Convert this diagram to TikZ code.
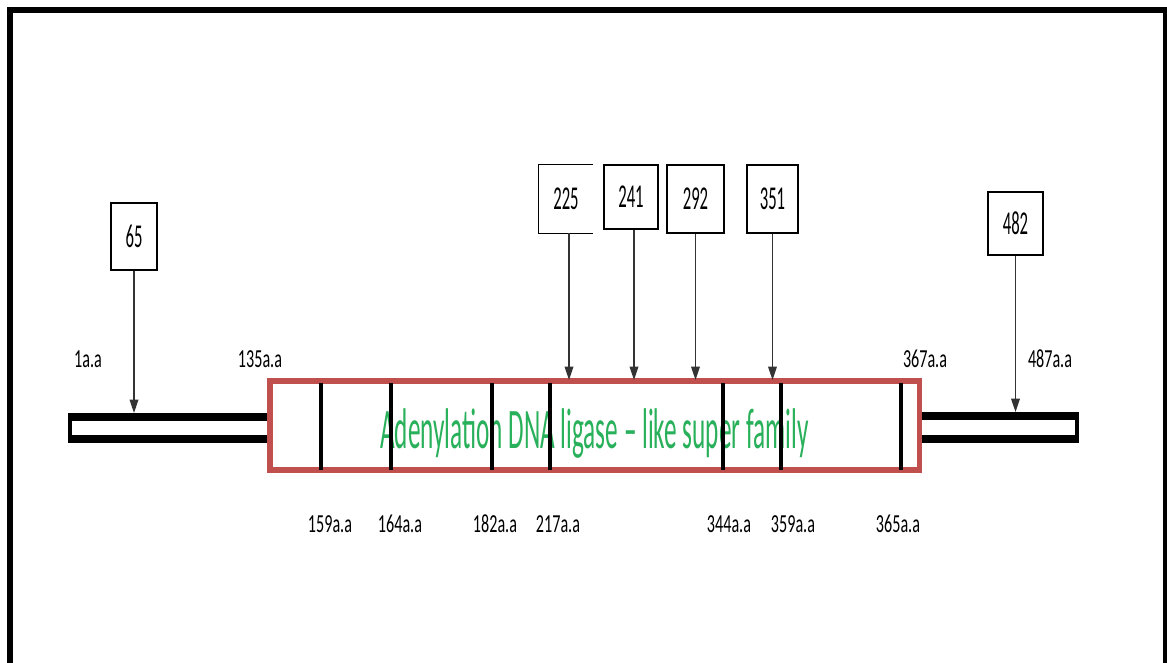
\documentclass[tikz,border=0pt]{standalone}
\usepackage{fontspec}
\usetikzlibrary{arrows.meta}
\newfontfamily\labfont[FakeStretch=0.62]{Carlito}
\newfontfamily\numfont[FakeStretch=0.5]{Carlito}
\newfontfamily\grnfont[FakeStretch=0.44]{Carlito}
\definecolor{domred}{RGB}{192,80,77}
\definecolor{domgreen}{RGB}{40,176,90}
\begin{document}
\begin{tikzpicture}[x=0.75pt,y=-0.75pt,
  lab/.style={font=\labfont\fontsize{19.5pt}{20pt}\selectfont, inner sep=0pt, anchor=base},
  posbox/.style={draw=black, line width=1.1pt, inner sep=0pt, font=\numfont\fontsize{25pt}{26pt}\selectfont},
  arr/.style={draw=black!80, line width=1pt, -{Triangle[length=10pt,width=6.5pt]}},
  tick/.style={draw=black, line width=2.3pt},
  frame/.style={draw=black, line width=4.5pt}]
\useasboundingbox (0,0) rectangle (1167,663);
% outer frame (open at the bottom)
\draw[frame] (10,663) -- (10,10.5) -- (1166,10.5) -- (1166,663);
% left and right tube segments
\fill[black] (68,412.5) rectangle (272,442.5);
\fill[white] (72,420.5) rectangle (272,434.5);
\fill[black] (916,412) rectangle (1079,443);
\fill[white] (916,420) rectangle (1075,435);
% domain box
\draw[domred, line width=3.8pt, fill=white] (270,381) rectangle (919.5,470);
\node[font=\grnfont\fontsize{43pt}{44pt}\selectfont, text=domgreen, inner sep=0pt, anchor=base west] (dom) at (380,448) {Adenylation DNA ligase – like super family};
% internal boundaries
\foreach \xx in {321,391,492,550,723,781,901} {\draw[tick] (\xx,383) -- (\xx,470);}
% position labels
\node[lab] (l1) at (88,367) {1a.a};
\node[lab] (l135) at (260,367) {135a.a};
\node[lab] (l367) at (925,367) {367a.a};
\node[lab] (l487) at (1050,367) {487a.a};
\node[lab] (l159) at (330,532) {159a.a};
\node[lab] (l164) at (400,532) {164a.a};
\node[lab] (l182) at (495,532) {182a.a};
\node[lab] (l217) at (558,532) {217a.a};
\node[lab] (l344) at (729,532) {344a.a};
\node[lab] (l359) at (793,532) {359a.a};
\node[lab] (l365) at (898,532) {365a.a};
% site boxes
\node[posbox, minimum width=34.5pt, minimum height=50.25pt] (b65) at (134,236.5) {65};
\node[inner sep=0pt, minimum width=40.5pt, minimum height=51pt, font=\numfont\fontsize{25pt}{26pt}\selectfont] (b225) at (566,199) {225};
\draw[black, line width=1.1pt] (b225.north east) -- (b225.north west) -- (b225.south west) -- (b225.south east);
\node[posbox, minimum width=40.5pt, minimum height=48pt] (b241) at (631,197) {241};
\node[posbox, minimum width=42.75pt, minimum height=51pt] (b292) at (695.5,199) {292};
\node[posbox, minimum width=38.25pt, minimum height=51pt] (b351) at (772.5,199) {351};
\node[posbox, minimum width=41.25pt, minimum height=47.25pt] (b482) at (1015.5,223.5) {482};
% arrow targets
\coordinate (t65) at (134,413);
\coordinate (t225) at (569,380);
\coordinate (t241) at (634,380);
\coordinate (t292) at (695.5,380);
\coordinate (t351) at (772.5,380);
\coordinate (t482) at (1015.5,412);
\draw[arr] (b65.south) -- (t65);
\draw[arr] (b225.south -| t225) -- (t225);
\draw[arr] (b241.south -| t241) -- (t241);
\draw[arr] (b292.south) -- (t292);
\draw[arr] (b351.south) -- (t351);
\draw[arr] (b482.south) -- (t482);
\end{tikzpicture}
\end{document}
